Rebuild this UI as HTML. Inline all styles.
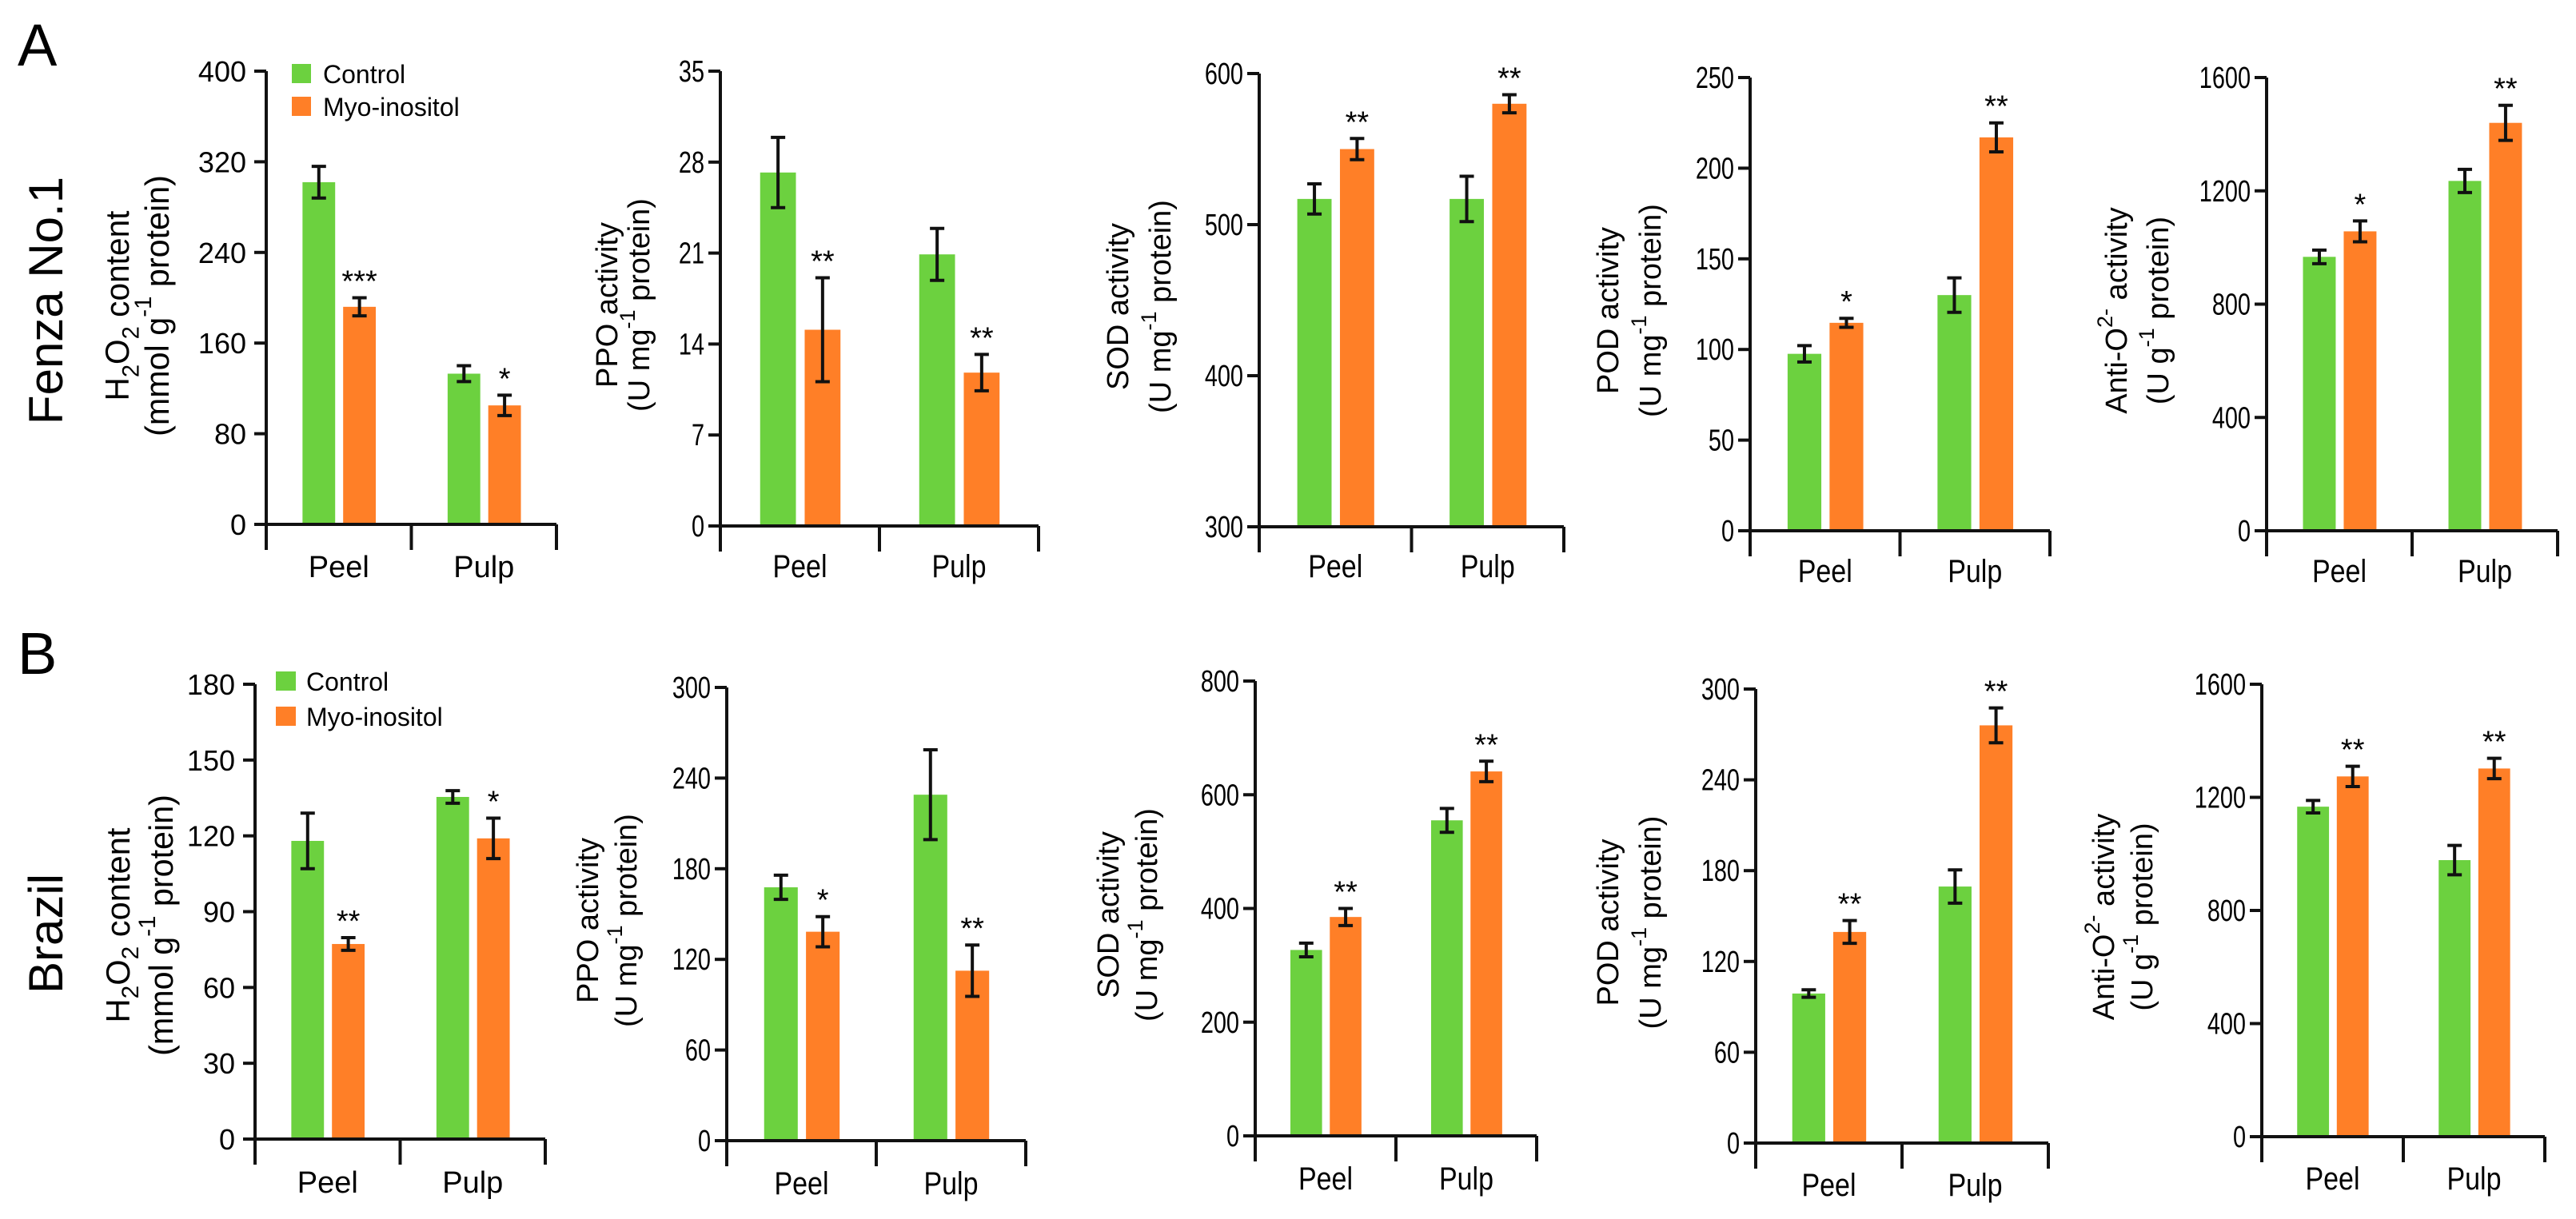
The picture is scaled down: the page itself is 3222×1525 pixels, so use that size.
<!DOCTYPE html>
<html><head><meta charset="utf-8"><title>Antioxidant activity chart</title>
<style>
html,body{margin:0;padding:0;background:#fff;}
svg{display:block;font-family:"Liberation Sans",Arial,sans-serif;}
</style></head>
<body>
<svg id="fig" width="3222" height="1525" viewBox="0 0 3222 1525" xmlns="http://www.w3.org/2000/svg">
<text x="22" y="82" font-size="74">A</text>
<text x="22" y="843" font-size="74">B</text>
<text transform="translate(78,376) rotate(-90)" font-size="60" text-anchor="middle">Fenza No.1</text>
<text transform="translate(78,1168) rotate(-90)" font-size="60" text-anchor="middle">Brazil</text>
<g id="legendA">
<rect x="365" y="80" width="24" height="24" fill="#6cd13f"/>
<text x="404" y="104" font-size="32">Control</text>
<rect x="365" y="121" width="24" height="24" fill="#ff7f27"/>
<text x="404" y="145" font-size="32">Myo-inositol</text>
</g>
<g id="legendB">
<rect x="345" y="840" width="25" height="24" fill="#6cd13f"/>
<text x="383" y="864" font-size="32">Control</text>
<rect x="345" y="884" width="25" height="24" fill="#ff7f27"/>
<text x="383" y="908" font-size="32">Myo-inositol</text>
</g>
</svg>
<script>
// ---- data ----
const categories = ["Peel", "Pulp"];
const seriesNames = ["Control", "Myo-inositol"];
// Row A: Fenza No.1
const a1Control = [302, 133], a1Myo = [192, 105], a1ControlErr = [14, 7], a1MyoErr = [8, 9], a1Sig = ["", "***", "", "*"];
const a1Ticks = [0, 80, 160, 240, 320, 400];
const a2Control = [27.2, 20.9], a2Myo = [15.1, 11.8], a2ControlErr = [2.7, 2.0], a2MyoErr = [4.0, 1.4], a2Sig = ["", "**", "", "**"];
const a2Ticks = [0, 7, 14, 21, 28, 35];
const a3Control = [517, 517], a3Myo = [550, 580], a3ControlErr = [10, 15], a3MyoErr = [7, 6], a3Sig = ["", "**", "", "**"];
const a3Ticks = [300, 400, 500, 600];
const a4Control = [97.6, 130], a4Myo = [114.7, 217], a4ControlErr = [4.5, 9.5], a4MyoErr = [2.5, 8], a4Sig = ["", "*", "", "**"];
const a4Ticks = [0, 50, 100, 150, 200, 250];
const a5Control = [967, 1235], a5Myo = [1057, 1440], a5ControlErr = [24, 41], a5MyoErr = [37, 62], a5Sig = ["", "*", "", "**"];
const a5Ticks = [0, 400, 800, 1200, 1600];
// Row B: Brazil
const b1Control = [118, 135.4], b1Myo = [77.2, 119], b1ControlErr = [11, 2.5], b1MyoErr = [2.5, 8], b1Sig = ["", "**", "", "*"];
const b1Ticks = [0, 30, 60, 90, 120, 150, 180];
const b2Control = [167.7, 229], b2Myo = [138.3, 112.5], b2ControlErr = [8, 29.7], b2MyoErr = [10, 17], b2Sig = ["", "*", "", "**"];
const b2Ticks = [0, 60, 120, 180, 240, 300];
const b3Control = [327, 555], b3Myo = [385, 641], b3ControlErr = [12, 21], b3MyoErr = [15, 18], b3Sig = ["", "**", "", "**"];
const b3Ticks = [0, 200, 400, 600, 800];
const b4Control = [98.8, 169.5], b4Myo = [139.5, 276], b4ControlErr = [2.5, 11], b4MyoErr = [7.5, 11.5], b4Sig = ["", "**", "", "**"];
const b4Ticks = [0, 60, 120, 180, 240, 300];
const b5Control = [1167, 978], b5Myo = [1274, 1302], b5ControlErr = [22, 52], b5MyoErr = [36, 36], b5Sig = ["", "**", "", "**"];
const b5Ticks = [0, 400, 800, 1200, 1600];

// ---- layout ----
const GREEN = "#6cd13f", ORANGE = "#ff7f27";
const panels = [
 {id:"a1", ax:333, top:89, bot:656, end:696, narrow:false, t1:-186, t2:-137, len1:238, len2:327, cyOff:10, title:["H","2","O","2"," content"], unit:"mmol g", unit2:" protein)", ctl:a1Control, myo:a1Myo, ce:a1ControlErr, me:a1MyoErr, sig:a1Sig, ticks:a1Ticks, lab:722},
 {id:"a2", ax:901, top:89, bot:658, end:1299, narrow:true, t1:-141, t2:-101, title:"PPO activity", unit:"U mg", unit2:" protein)", ctl:a2Control, myo:a2Myo, ce:a2ControlErr, me:a2MyoErr, sig:a2Sig, ticks:a2Ticks, lab:722},
 {id:"a3", ax:1575, top:92, bot:659, end:1956, narrow:true, t1:-176, t2:-123, title:"SOD activity", unit:"U mg", unit2:" protein)", ctl:a3Control, myo:a3Myo, ce:a3ControlErr, me:a3MyoErr, sig:a3Sig, ticks:a3Ticks, lab:722},
 {id:"a4", ax:2189, top:97, bot:664, end:2564, narrow:true, t1:-177, t2:-124, title:"POD activity", unit:"U mg", unit2:" protein)", ctl:a4Control, myo:a4Myo, ce:a4ControlErr, me:a4MyoErr, sig:a4Sig, ticks:a4Ticks, lab:728},
 {id:"a5", ax:2835, top:97, bot:664, end:3199, narrow:true, t1:-187, t2:-135, title:"anti", unit:"U g", unit2:" protein)", ctl:a5Control, myo:a5Myo, ce:a5ControlErr, me:a5MyoErr, sig:a5Sig, ticks:a5Ticks, lab:728},
 {id:"b1", ax:319, top:856, bot:1425, end:682, narrow:false, t1:-172, t2:-118, len1:244, len2:327, cyOff:17, title:["H","2","O","2"," content"], unit:"mmol g", unit2:" protein)", ctl:b1Control, myo:b1Myo, ce:b1ControlErr, me:b1MyoErr, sig:b1Sig, ticks:b1Ticks, lab:1492},
 {id:"b2", ax:909, top:860, bot:1427, end:1283, narrow:true, t1:-173, t2:-125, title:"PPO activity", unit:"U mg", unit2:" protein)", ctl:b2Control, myo:b2Myo, ce:b2ControlErr, me:b2MyoErr, sig:b2Sig, ticks:b2Ticks, lab:1494},
 {id:"b3", ax:1570, top:852, bot:1421, end:1922, narrow:true, t1:-183, t2:-135, title:"SOD activity", unit:"U mg", unit2:" protein)", ctl:b3Control, myo:b3Myo, ce:b3ControlErr, me:b3MyoErr, sig:b3Sig, ticks:b3Ticks, lab:1488},
 {id:"b4", ax:2196, top:862, bot:1430, end:2562, narrow:true, t1:-184, t2:-131, title:"POD activity", unit:"U mg", unit2:" protein)", ctl:b4Control, myo:b4Myo, ce:b4ControlErr, me:b4MyoErr, sig:b4Sig, ticks:b4Ticks, lab:1496},
 {id:"b5", ax:2829, top:856, bot:1422, end:3183, narrow:true, t1:-197, t2:-149, title:"anti", unit:"U g", unit2:" protein)", ctl:b5Control, myo:b5Myo, ce:b5ControlErr, me:b5MyoErr, sig:b5Sig, ticks:b5Ticks, lab:1488}
];

const NS = "http://www.w3.org/2000/svg";
const svg = document.getElementById("fig");
function mk(tag, attrs, parent){
  const e = document.createElementNS(NS, tag);
  for (const k in attrs) e.setAttribute(k, attrs[k]);
  (parent||svg).appendChild(e);
  return e;
}
function fitLen(el, base, target){
  if (!target) return;
  const L = el.getComputedTextLength();
  if (L > 0) el.setAttribute("transform", base + ` scale(${target / L},1)`);
}

panels.forEach(p => {
  const g = mk("g", {});
  
  
  const tmin = p.ticks[0], tmax = p.ticks[p.ticks.length-1];
  const y = v => p.bot - (v - tmin) / (tmax - tmin) * (p.bot - p.top);
  const seg = (p.end - p.ax) / 2;
  const xBand = (i, s) => p.ax + seg * i + seg * (s === 0 ? 0.25 : 0.53);
  const bw = seg * 0.225;
  const titleSize = p.narrow ? 38 : 42;
  const supSize = p.narrow ? 27 : 30;

  categories.forEach((cat, i) => {
    [[p.ctl, p.ce, GREEN, "control"], [p.myo, p.me, ORANGE, "myo-inositol"]].forEach((sr, s) => {
      const v = sr[0][i], e = sr[1][i];
      const x0 = xBand(i, s);
      const r = mk("rect", {x:x0, y:y(v), width:bw, height:p.bot - y(v), fill:sr[2]}, g);
      
      
      const cx = x0 + bw/2, cap = 9;
      const eb = mk("path", {d:`M${cx},${y(v+e)}V${y(v-e)}M${cx-cap},${y(v+e)}H${cx+cap}M${cx-cap},${y(v-e)}H${cx+cap}`, stroke:"#111", "stroke-width":4, fill:"none"}, g);
      
      
      const sig = p.sig[i*2 + s];
      if (sig) {
        const st = mk("text", {x:cx, y:y(v+e) - 8, "font-size":38, "text-anchor":"middle"}, g);
        st.textContent = sig;
        
        
      }
    });
  });

  const axes = mk("path", {d:`M${p.ax},${p.top}V${p.bot+32}M${p.ax},${p.bot}H${p.end}M${p.ax+seg},${p.bot}V${p.bot+32}M${p.end},${p.bot}V${p.bot+32}`, stroke:"#111", "stroke-width":4, fill:"none"}, g);
  
  

  p.ticks.forEach(t => {
    const ty = y(t);
    const tk = mk("path", {d:`M${p.ax-15},${ty}H${p.ax}`, stroke:"#111", "stroke-width":4}, g);
    
    
    const lx = p.ax - (p.narrow ? 20 : 25);
    const tl = mk("text", {transform:`translate(${lx},${ty+13}) scale(${p.narrow?0.76:1},1)`, "font-size":p.narrow?38:36, "text-anchor":"end"}, g);
    tl.textContent = t;
    
    
  });

  categories.forEach((cat, i) => {
    const cl = mk("text", {transform:`translate(${p.ax + seg*(i+0.5)},${p.lab}) scale(${p.narrow?0.85:1},1)`, "font-size":p.narrow?40:38, "text-anchor":"middle"}, g);
    cl.textContent = cat;
    
    
  });

  const cy = (p.top + p.bot) / 2 + (p.cyOff || 8);
  const base1 = `translate(${p.ax + p.t1},${cy}) rotate(-90)`;
  const t1 = mk("text", {transform:base1, "font-size":titleSize, "text-anchor":"middle", "dominant-baseline":"central"}, g);
  
  
  if (Array.isArray(p.title)) {
    const parts = [["H",0],["2",1],["O",0],["2",1],[" content",0]];
    parts.forEach(pt => {
      const ts = mk("tspan", pt[1] ? {"font-size":supSize, "baseline-shift":"sub"} : {}, t1);
      ts.textContent = pt[0];
    });
  } else if (p.title === "anti") {
    const a = mk("tspan", {}, t1); a.textContent = "Anti-O";
    const b = mk("tspan", {"font-size":supSize, "baseline-shift":"super"}, t1); b.textContent = "2-";
    const c = mk("tspan", {}, t1); c.textContent = " activity";
  } else {
    t1.textContent = p.title;
  }
  const base2 = `translate(${p.ax + p.t2},${cy}) rotate(-90)`;
  const t2 = mk("text", {transform:base2, "font-size":titleSize, "text-anchor":"middle", "dominant-baseline":"central"}, g);
  
  
  const u1 = mk("tspan", {}, t2); u1.textContent = "(" + p.unit;
  const u2 = mk("tspan", {"font-size":supSize, "baseline-shift":"super"}, t2); u2.textContent = "-1";
  const u3 = mk("tspan", {}, t2); u3.textContent = p.unit2;
  fitLen(t1, base1, p.len1);
  fitLen(t2, base2, p.len2);
});
</script>
</body></html>
